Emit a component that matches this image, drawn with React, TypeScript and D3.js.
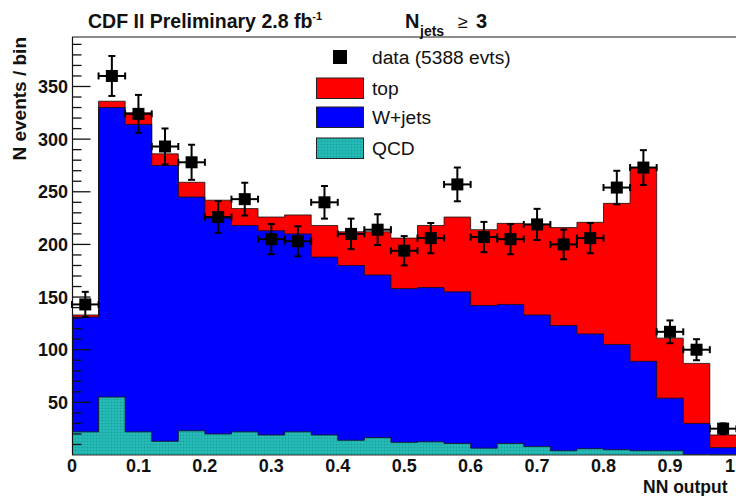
import React from "react";
import * as d3 from "d3";

// bin lower edges (25 bins of width 0.04 on NN output)
const binLow = [0, 0.04, 0.08, 0.12, 0.16, 0.2, 0.24, 0.28, 0.32, 0.36, 0.4, 0.44, 0.48, 0.52, 0.56, 0.6, 0.64, 0.68, 0.72, 0.76, 0.8, 0.84, 0.88, 0.92, 0.96];
const binWidth = 0.04;

// stacked components (events / bin)
const qcd = [22, 55, 22, 13, 23, 20, 22, 19, 22, 19, 14, 16.5, 12, 12.5, 11, 6.5, 11, 8, 4, 6, 5, 4, 4, 0.5, 0.3];
const wjets = [109, 275, 292, 262, 222, 205, 196, 194, 188, 169, 166, 154.5, 146, 146.5, 144, 135.5, 132, 125, 119, 109, 100, 85, 50, 29.5, 6.7];
const top = [2, 6, 11, 11, 14, 17, 16, 13, 18, 30, 32, 41, 48, 59, 71, 72, 77, 86, 93, 106, 134, 184, 57, 57, 12];

// data
const data = [143, 360, 324, 293, 278, 226, 243, 205, 203, 240, 210, 214, 194, 206, 257, 207, 205, 219, 200, 206, 254, 273, 117, 100, 25];

const xTicks = [0, 0.1, 0.2, 0.3, 0.4, 0.5, 0.6, 0.7, 0.8, 0.9, 1];
const xTickLabels = ["0", "0.1", "0.2", "0.3", "0.4", "0.5", "0.6", "0.7", "0.8", "0.9", "1"];
const yTicks = [50, 100, 150, 200, 250, 300, 350];

const legendItems = [
  { key: "data", label: "data (5388 evts)" },
  { key: "top", label: "top" },
  { key: "wjets", label: "W+jets" },
  { key: "qcd", label: "QCD" },
];

const W = 736;
const H = 496;
const FONT = "'Liberation Sans', Arial, Helvetica, sans-serif";
const RED = "#ff0000";
const BLUE = "#0000ff";
const CYAN = "#22b6b2";

export default function App() {
  const x = d3.scaleLinear().domain([0, 1]).range([72, 736.4]);
  const y = d3.scaleLinear().domain([0, 397]).range([455, 37]);

  const rows = binLow.map((b, i) => ({ b, qcd: qcd[i], wjets: wjets[i], top: top[i] }));
  const stack = d3.stack<any>().keys(["qcd", "wjets", "top"])(rows);

  const cum = stack.map((layer) => layer.map((d) => d[1]));

  const stepPts = (vals: number[]) => {
    const pts: [number, number][] = [];
    vals.forEach((v, i) => {
      pts.push([binLow[i], v]);
      pts.push([binLow[i] + binWidth, v]);
    });
    return pts;
  };

  const area = d3
    .area<[number, number]>()
    .x((d) => x(d[0]))
    .y0(y(0))
    .y1((d) => y(d[1]));
  const line = d3
    .line<[number, number]>()
    .x((d) => x(d[0]))
    .y((d) => y(d[1]));

  const outline = (vals: number[]) => {
    const pts = stepPts(vals);
    return line([[0, 0], ...pts, [1, 0]]);
  };

  const layerColors = [CYAN, BLUE, RED];
  const drawOrder = [2, 1, 0];

  const minorTicks = d3.range(10, 400, 10).filter((v) => v % 50 !== 0 && v <= 397);

  return (
    <div style={{ position: "fixed", left: 0, top: 0, width: W, height: H, background: "#fff" }}>
      <svg width={W} height={H} viewBox={`0 0 ${W} ${H}`} style={{ display: "block" }}>
        <defs>
          <pattern id="qcdpat" width="3" height="3" patternUnits="userSpaceOnUse">
            <rect width="3" height="3" fill={CYAN} />
            <rect x="0" y="0" width="1" height="1" fill="#169c98" />
            <rect x="1.5" y="1.5" width="1" height="1" fill="#2fc4c0" />
          </pattern>
          <clipPath id="plotclip">
            <rect x={72} y={30} width={W - 72} height={430} />
          </clipPath>
        </defs>

        <rect width={W} height={H} fill="#fff" />

        {/* stacked histogram */}
        <g clipPath="url(#plotclip)">
          {drawOrder.map((li) => (
            <path
              key={"a" + li}
              d={area(stepPts(cum[li])) || ""}
              fill={li === 0 ? "url(#qcdpat)" : layerColors[li]}
            />
          ))}
          {drawOrder.map((li) => (
            <path
              key={"l" + li}
              d={outline(cum[li]) || ""}
              fill="none"
              stroke="#111"
              strokeWidth={1}
              strokeOpacity={0.8}
            />
          ))}
        </g>

        {/* frame */}
        <line x1={72} x2={W} y1={37} y2={37} stroke="#8a8a8a" strokeWidth={2} />
        <line x1={72} x2={W} y1={455} y2={455} stroke="#333" strokeWidth={1} />
        <line x1={72.5} x2={72.5} y1={37} y2={455} stroke="#111" strokeWidth={1.2} />

        {/* y ticks */}
        {yTicks.map((t) => (
          <line key={"M" + t} x1={72.5} x2={90.5} y1={y(t)} y2={y(t)} stroke="#111" strokeWidth={1.3} />
        ))}
        {minorTicks.map((t) => (
          <line key={"m" + t} x1={72.5} x2={81.5} y1={y(t)} y2={y(t)} stroke="#111" strokeWidth={1.3} />
        ))}
        {yTicks.map((t) => (
          <text
            key={"yl" + t}
            x={68}
            y={y(t) + 6.5}
            textAnchor="end"
            fontFamily={FONT}
            fontWeight="bold"
            fontSize={18}
            fill="#111"
          >
            {t}
          </text>
        ))}

        {/* x tick labels */}
        {xTicks.map((t, i) => (
          <text
            key={"xl" + t}
            x={t === 1 ? W - 1 : x(t)}
            y={471.5}
            textAnchor={t === 1 ? "end" : "middle"}
            fontFamily={FONT}
            fontWeight="bold"
            fontSize={18}
            fill="#111"
          >
            {xTickLabels[i]}
          </text>
        ))}

        {/* data points */}
        {data.map((v, i) => {
          const cx = x(binLow[i] + binWidth / 2);
          const cy = y(v);
          const err = Math.sqrt(v);
          const yt = y(v + err);
          const yb = y(v - err);
          const xl = x(binLow[i]);
          const xr = x(binLow[i] + binWidth);
          return (
            <g key={"d" + i} stroke="#000" strokeWidth={2}>
              <line x1={cx} x2={cx} y1={yt} y2={yb} />
              <line x1={cx - 3.5} x2={cx + 3.5} y1={yt} y2={yt} />
              <line x1={cx - 3.5} x2={cx + 3.5} y1={yb} y2={yb} />
              <line x1={xl} x2={xr} y1={cy} y2={cy} />
              <line x1={xl} x2={xl} y1={cy - 3.5} y2={cy + 3.5} />
              <line x1={xr} x2={xr} y1={cy - 3.5} y2={cy + 3.5} />
              <rect x={cx - 6} y={cy - 6} width={12} height={12} fill="#000" stroke="none" />
            </g>
          );
        })}

        {/* legend */}
        {legendItems.map((it, i) => {
          const cyRow = [57, 88, 117, 148][i];
          return (
            <g key={it.key}>
              {it.key === "data" ? (
                <rect x={333} y={cyRow - 7} width={14} height={14} fill="#000" />
              ) : (
                <rect
                  x={316.5}
                  y={cyRow - 10}
                  width={47}
                  height={20.5}
                  fill={it.key === "top" ? RED : it.key === "wjets" ? BLUE : "url(#qcdpat)"}
                  stroke="#222"
                  strokeWidth={1}
                />
              )}
              <text x={372} y={cyRow + 6.5} fontFamily={FONT} fontSize={19.2} fill="#111">
                {it.label}
              </text>
            </g>
          );
        })}

        {/* titles */}
        <text x={88} y={28} fontFamily={FONT} fontWeight="bold" fontSize={19.5} fill="#111">
          CDF II Preliminary 2.8 fb
          <tspan fontSize={11} dy={-8}>-1</tspan>
        </text>
        <text x={405} y={28} fontFamily={FONT} fontWeight="bold" fontSize={20} fill="#111">N</text>
        <text x={420} y={36} fontFamily={FONT} fontWeight="bold" fontSize={14} fill="#111">jets</text>
        <text x={458} y={28} fontFamily={FONT} fontSize={18} fill="#111">≥</text>
        <text x={476} y={28} fontFamily={FONT} fontWeight="bold" fontSize={20} fill="#111">3</text>

        <text
          transform="translate(26,37) rotate(-90)"
          textAnchor="end"
          fontFamily={FONT}
          fontWeight="bold"
          fontSize={19}
          fill="#111"
        >
          N events / bin
        </text>
        <text x={643} y={493} fontFamily={FONT} fontWeight="bold" fontSize={17.5} fill="#111">
          NN output
        </text>
      </svg>
    </div>
  );
}
